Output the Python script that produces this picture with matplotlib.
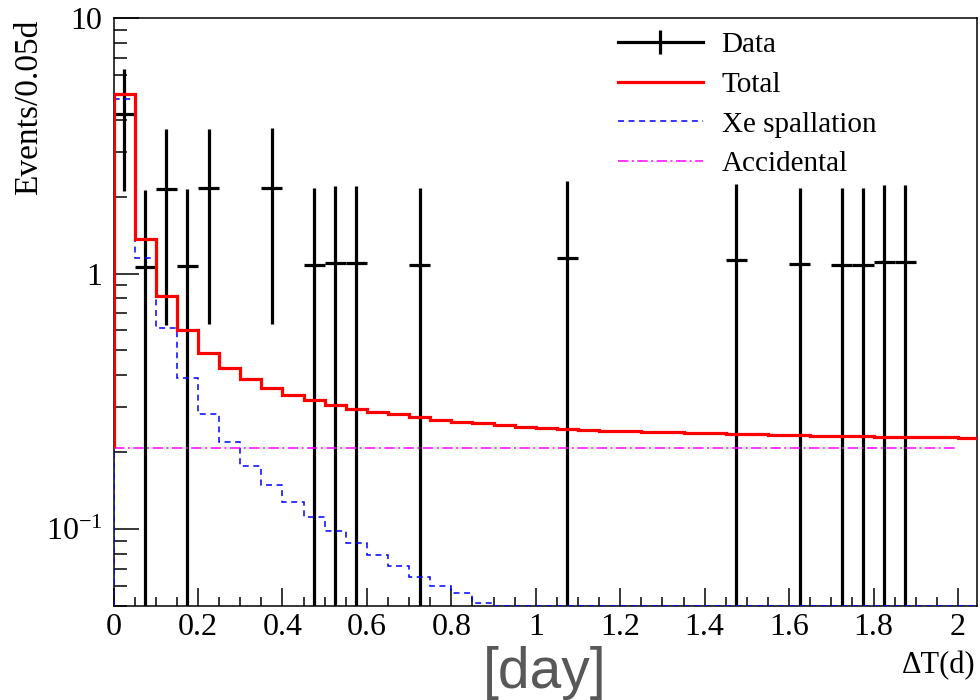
import numpy as np
import matplotlib
matplotlib.use('Agg')
import matplotlib.pyplot as plt
from matplotlib.lines import Line2D
from matplotlib.ticker import MultipleLocator, LogLocator, NullFormatter

plt.rcParams['font.family'] = ['Liberation Serif', 'DejaVu Serif']
plt.rcParams['mathtext.fontset'] = 'custom'
plt.rcParams['mathtext.rm'] = 'Liberation Serif'
plt.rcParams['mathtext.it'] = 'Liberation Serif:italic'
plt.rcParams['lines.scale_dashes'] = False

# binning: 0.05 d per bin
BIN_W = 0.05
N_BINS = 41
X_MAX = 2.045
Y_MIN, Y_MAX = 0.05, 10

# data points (bin centres, weighted events/bin, raw counts)
data_x = [0.025, 0.075, 0.125, 0.175, 0.225, 0.375, 0.475, 0.525, 0.575,
          0.725, 1.075, 1.475, 1.625, 1.725, 1.775, 1.825, 1.875]
data_y = [4.2, 1.06, 2.15, 1.07, 2.16, 2.17, 1.08, 1.10, 1.10,
          1.08, 1.155, 1.125, 1.085, 1.08, 1.08, 1.11, 1.11]
data_n = [4, 1, 2, 1, 2, 2, 1, 1, 1, 1, 1, 1, 1, 1, 1, 1, 1]

# fitted total (per bin)
total = [5.06, 1.36, 0.82, 0.60, 0.49, 0.425, 0.385, 0.358, 0.336, 0.321,
         0.307, 0.296, 0.288, 0.281, 0.274, 0.268, 0.263, 0.259, 0.256, 0.252,
         0.249, 0.247, 0.245, 0.243, 0.241, 0.240, 0.239, 0.238, 0.237, 0.236,
         0.235, 0.234, 0.233, 0.232, 0.2315, 0.231, 0.230, 0.2295, 0.229, 0.2285,
         0.228]

# Xe spallation component (per bin)
xe = [4.84, 1.15, 0.61, 0.39, 0.283, 0.22, 0.177, 0.149, 0.128, 0.111,
      0.0986, 0.0885, 0.0794, 0.072, 0.0652, 0.060, 0.056, 0.0515, 0.047, 0.044,
      0.041, 0.039, 0.037, 0.035, 0.033, 0.032, 0.031, 0.030, 0.029, 0.028,
      0.027, 0.026, 0.025, 0.024, 0.023, 0.0225, 0.022, 0.021, 0.0205, 0.020,
      0.0195]

# accidental level, drawn over [0, 2] d
ACC = 0.2085
ACC_X = [0.0, 2.0]

edges = np.arange(N_BINS + 1) * BIN_W

fig = plt.figure(figsize=(9.8, 7), dpi=100)
ax = fig.add_axes([113.5 / 980, 1 - 606 / 700, (977 - 113.5) / 980, (606 - 18) / 700])

yv = np.array(data_y)
err = yv / np.sqrt(np.array(data_n))
err_lo = np.minimum(err, yv * 0.999)
ax.errorbar(data_x, data_y, xerr=BIN_W / 2, yerr=[err_lo, err], fmt='none',
            ecolor='black', elinewidth=2.3, capsize=0, zorder=2)

ax.stairs(np.clip(xe, Y_MIN, None), edges, baseline=Y_MIN, color='#0000ff', lw=1.1,
          linestyle=(0, (4.3, 3.3)), zorder=3)
ax.plot(ACC_X, [ACC, ACC], color='#ff00ff', lw=1.1,
        linestyle=(0, (7.5, 2.5, 1.4, 2.5)), zorder=3)
ax.stairs(total, edges, baseline=ACC, color='#ff0000', lw=2.3, zorder=4)

ax.set_yscale('log')
ax.set_xlim(0, X_MAX)
ax.set_ylim(Y_MIN, Y_MAX)

ax.xaxis.set_minor_locator(MultipleLocator(0.05))
ax.set_xticks([0, 0.2, 0.4, 0.6, 0.8, 1.0, 1.2, 1.4, 1.6, 1.8, 2.0],
              labels=['0', '0.2', '0.4', '0.6', '0.8', '1', '1.2', '1.4', '1.6', '1.8', '2'])
ax.set_yticks([0.1, 1, 10], labels=[r'$10^{-1}$', '1', '10'])
ax.yaxis.set_minor_locator(LogLocator(base=10, subs=np.arange(2, 10)))
ax.yaxis.set_minor_formatter(NullFormatter())

ax.tick_params(axis='x', which='major', direction='in', length=13, width=1.1,
               labelsize=23, pad=5, top=False)
ax.tick_params(axis='x', which='minor', direction='in', length=6.5, width=1.1, top=False)
ax.tick_params(axis='y', which='major', direction='in', length=18, width=1.1,
               labelsize=23, pad=8, right=False)
ax.tick_params(axis='y', which='minor', direction='in', length=9.4, width=1.1, right=False)
for s in ax.spines.values():
    s.set_linewidth(1.1)

fig.text(29 / 980, 1 - 20 / 700, 'Events/0.05d', rotation=90, ha='center', va='top',
         fontsize=24)
fig.text(975 / 980, 1 - 673 / 700, 'ΔT(d)', ha='right', va='baseline', fontsize=22)
fig.text(545 / 980, 1 - 688 / 700, '[day]', ha='center', va='baseline', fontsize=41,
         color='#585858', family='Liberation Sans')

handles = [
    Line2D([], [], color='black', lw=2.3, marker='|', markersize=17, markeredgewidth=2.3),
    Line2D([], [], color='#ff0000', lw=2.3),
    Line2D([], [], color='#0000ff', lw=1.1, linestyle=(0, (4.3, 3.3))),
    Line2D([], [], color='#ff00ff', lw=1.1, linestyle=(0, (7.5, 2.5, 1.4, 2.5))),
]
labels = ['Data', 'Total', 'Xe spallation', 'Accidental']
ax.legend(handles, labels, loc='upper left',
          bbox_to_anchor=(618 / 980, 1 - 32 / 700), bbox_transform=fig.transFigure,
          frameon=False, fontsize=21, handlelength=2.9, handletextpad=0.65,
          labelspacing=0.45, borderpad=0, borderaxespad=0)

fig.savefig('out.png', dpi=100)
